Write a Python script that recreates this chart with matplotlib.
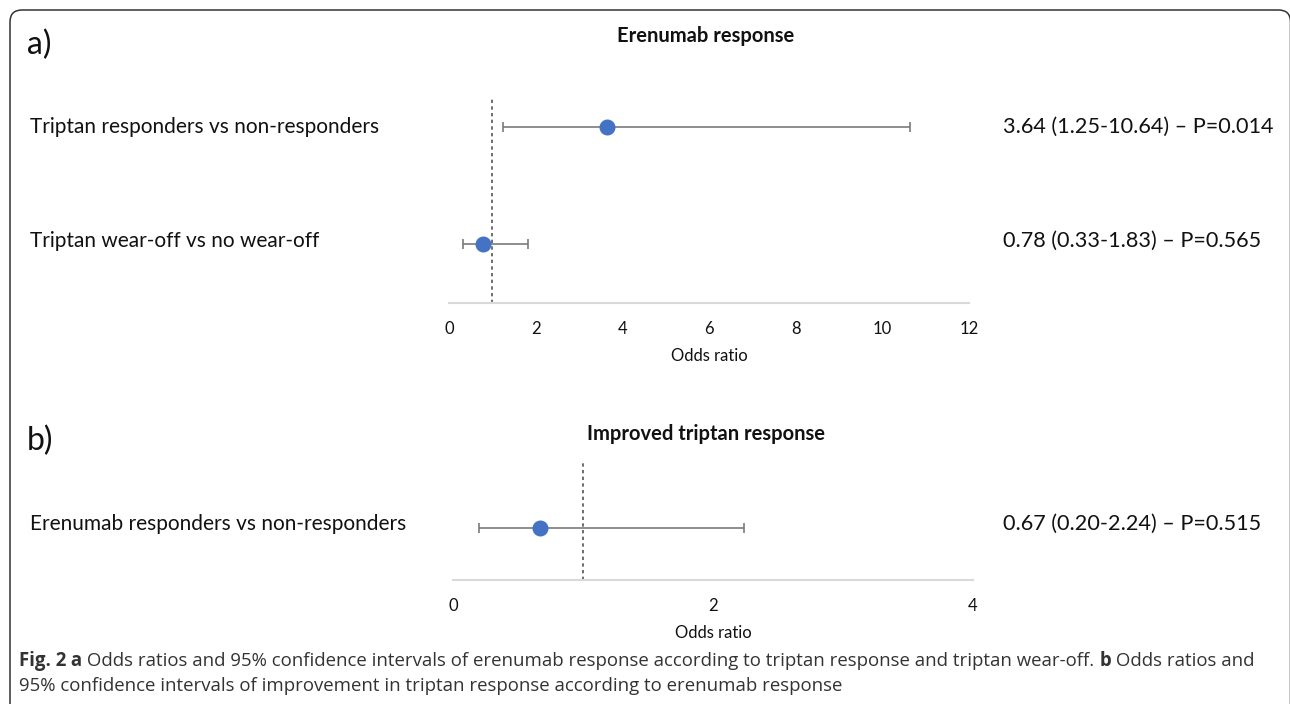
import matplotlib
matplotlib.use("Agg")
import matplotlib.pyplot as plt
from matplotlib.patches import FancyBboxPatch
from matplotlib.transforms import IdentityTransform

''' Data
'''
labels_a = ["Triptan responders vs non-responders", "Triptan wear-off vs no wear-off"]
or_a = [3.64, 0.78]
lo_a = [1.25, 0.33]
hi_a = [10.64, 1.83]
p_a = [0.014, 0.565]
ticks_a = [0, 2, 4, 6, 8, 10, 12]

labels_b = ["Erenumab responders vs non-responders"]
or_b = [0.67]
lo_b = [0.20]
hi_b = [2.24]
p_b = [0.515]
ticks_b = [0, 2, 4]

caption1 = [("Fig. 2", "bold"), (" a", "bold"),
            (" Odds ratios and 95% confidence intervals of erenumab response according to triptan response and triptan wear-off.", "normal"),
            (" b", "bold"), (" Odds ratios and", "normal")]
caption2 = "95% confidence intervals of improvement in triptan response according to erenumab response"

W, H = 1290, 704
plt.rcParams['font.family'] = ['Lato', 'DejaVu Sans']
fig = plt.figure(figsize=(W / 100, H / 100), dpi=100)

blue = '#4472C4'
grey = '#7a7a7a'
txt_col = '#111111'
cap_col = '#333333'
cap_font = ['Open Sans', 'DejaVu Sans']
cap_size = 13.4


def fx(px):
    return px / W


def fy(py):
    return 1 - py / H


def forest(ax, ors, los, his, ys, ticks):
    err = [[o - l for o, l in zip(ors, los)], [h - o for o, h in zip(ors, his)]]
    ax.errorbar(ors, ys, xerr=err, fmt='none', ecolor=grey, elinewidth=1.2,
                capsize=3.5, capthick=1.2, zorder=2)
    ax.plot(ors, ys, 'o', color=blue, markersize=10.5, zorder=3)
    ax.axvline(1, color='#555555', linestyle=(0, (2, 2)), linewidth=1.2, zorder=1)
    ax.set_xlim(ticks[0], ticks[-1])
    ax.set_xticks(ticks)
    ax.set_yticks([])
    for s in ['top', 'right', 'left']:
        ax.spines[s].set_visible(False)
    ax.spines['bottom'].set_color('#d9d9d9')
    ax.spines['bottom'].set_linewidth(1.5)
    ax.tick_params(axis='x', length=0, pad=13, labelsize=12, labelcolor=txt_col)
    ax.set_xlabel("Odds ratio", fontsize=12, labelpad=8, color=txt_col)


def label_text(o, l, h, p):
    return f"{o:.2f} ({l:.2f}-{h:.2f}) \u2013 P={p:.3f}"


# panel a
ax1 = fig.add_axes([fx(449), fy(303), fx(520), (303 - 97.75) / H])
forest(ax1, or_a, lo_a, hi_a, [2, 1], ticks_a)
ax1.set_ylim(0.5, 2.25)
row_px_a = [127, 241]
for lab, o, l, h, p, py in zip(labels_a, or_a, lo_a, hi_a, p_a, row_px_a):
    fig.text(fx(30), fy(py), lab, fontsize=15, va='center', ha='left', color=txt_col)
    fig.text(fx(1003), fy(py), label_text(o, l, h, p), fontsize=15.6, va='center',
             ha='left', color=txt_col)
fig.text(fx(27), fy(45), "a)", fontsize=23, va='center', ha='left', color=txt_col)
fig.text(fx(706), fy(36), "Erenumab response", fontsize=14.5, fontweight='bold',
         va='center', ha='center', color=txt_col)

# panel b
ax2 = fig.add_axes([fx(453), fy(580), fx(520), 120 / H])
forest(ax2, or_b, lo_b, hi_b, [1], ticks_b)
ax2.set_ylim(0, 2.31)
for lab, o, l, h, p in zip(labels_b, or_b, lo_b, hi_b, p_b):
    fig.text(fx(30), fy(524), lab, fontsize=15, va='center', ha='left', color=txt_col)
    fig.text(fx(1003), fy(524), label_text(o, l, h, p), fontsize=15.6, va='center',
             ha='left', color=txt_col)
fig.text(fx(27), fy(441), "b)", fontsize=23, va='center', ha='left', color=txt_col)
fig.text(fx(706), fy(434), "Improved triptan response", fontsize=14.5, fontweight='bold',
         va='center', ha='center', color=txt_col)

# caption, bold and normal pieces chained one after the other
anchor = fig.text(fx(19), fy(661), caption1[0][0], fontsize=cap_size,
                  fontweight=caption1[0][1], family=cap_font, va='center',
                  ha='left', color=cap_col)
for txt, wt in caption1[1:]:
    anchor = fig.add_artist(plt.Annotation(txt, xy=(1, 0.5), xycoords=anchor,
                                           va='center', ha='left', fontsize=cap_size,
                                           fontweight=wt, family=cap_font, color=cap_col))
fig.text(fx(19), fy(686), caption2, fontsize=cap_size, family=cap_font, va='center',
         ha='left', color=cap_col)

# rounded frame
frame = FancyBboxPatch((10, -60), 1280.5, H - 10 + 60,
                       boxstyle="round,pad=0,rounding_size=12",
                       transform=IdentityTransform(), facecolor='none',
                       edgecolor='#333333', linewidth=1.1)
fig.add_artist(frame)

fig.savefig("out.png", dpi=100)
